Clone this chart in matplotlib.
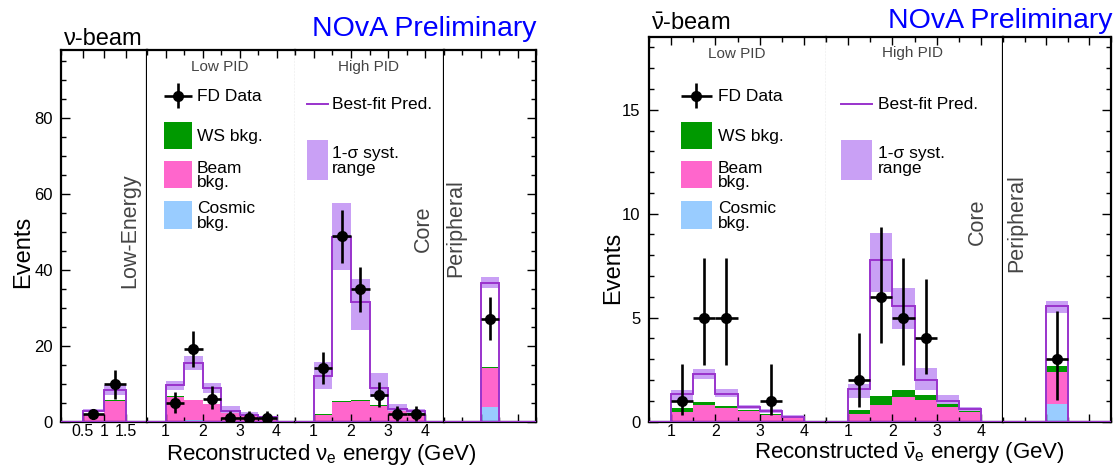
import numpy as np
import matplotlib
matplotlib.use('Agg')
import matplotlib.pyplot as plt
from matplotlib.patches import Rectangle
from matplotlib.ticker import FixedLocator, MultipleLocator, NullFormatter

plt.rcParams['font.family'] = ['Liberation Sans', 'DejaVu Sans']
plt.rcParams['mathtext.fontset'] = 'custom'
plt.rcParams['mathtext.rm'] = 'Liberation Sans'
plt.rcParams['mathtext.it'] = 'Liberation Sans'
plt.rcParams['mathtext.bf'] = 'Liberation Sans:bold'

# ---------------- data: neutrino beam (left) ----------------
nu_le_edges = [0.5, 1.0, 1.5]
nu_le_data = [2, 10]
nu_le_elo = [1.4, 4.0]
nu_le_ehi = [1.4, 3.7]
nu_le_pred = [2.9, 8.4]
nu_le_blo = [2.5, 6.9]
nu_le_bhi = [3.3, 9.5]
nu_le_cosmic = [0.1, 0.1]
nu_le_beam = [1.9, 5.3]
nu_le_ws = [0.05, 0.2]

nu_lp_edges = [1.0, 1.5, 2.0, 2.5, 3.0, 3.5, 4.0]
nu_lp_data = [5, 19, 6, 1, 1, 1]
nu_lp_elo = [2.8, 4.5, 2.7, 0.8, 0.8, 0.8]
nu_lp_ehi = [2.7, 4.8, 3.3, 1.8, 1.8, 1.8]
nu_lp_pred = [9.5, 15.4, 8.8, 2.9, 1.8, 1.2]
nu_lp_blo = [8.2, 13.6, 7.6, 2.2, 1.4, 0.8]
nu_lp_bhi = [10.6, 17.2, 10.2, 4.0, 2.4, 1.5]
nu_lp_cosmic = [0.1, 0.4, 0.1, 0.05, 0.05, 0.0]
nu_lp_beam = [6.4, 5.2, 4.5, 2.1, 1.3, 0.85]
nu_lp_ws = [0.2, 0.2, 0.1, 0.1, 0.05, 0.05]

nu_hp_edges = [1.0, 1.5, 2.0, 2.5, 3.0, 3.5, 4.0]
nu_hp_data = [14, 49, 35, 7, 2, 2]
nu_hp_elo = [4.1, 7.2, 6.2, 3.2, 1.8, 1.8]
nu_hp_ehi = [4.3, 6.9, 5.7, 3.4, 2.2, 2.2]
nu_hp_pred = [12.0, 48.8, 31.5, 8.9, 3.3, 2.7]
nu_hp_blo = [8.6, 40.0, 24.2, 6.4, 2.7, 2.3]
nu_hp_bhi = [15.8, 57.7, 37.6, 12.8, 4.7, 3.2]
nu_hp_cosmic = [0.05, 0.1, 0.1, 0.05, 0.05, 0.05]
nu_hp_beam = [1.6, 5.0, 5.2, 4.0, 2.7, 2.0]
nu_hp_ws = [0.3, 0.3, 0.3, 0.2, 0.2, 0.15]

nu_pe_edges = [1.0, 1.5]
nu_pe_data = [27]
nu_pe_elo = [5.6]
nu_pe_ehi = [5.8]
nu_pe_pred = [36.5]
nu_pe_blo = [35.3]
nu_pe_bhi = [38.1]
nu_pe_cosmic = [3.8]
nu_pe_beam = [10.2]
nu_pe_ws = [0.3]

# ---------------- data: antineutrino beam (right) ----------------
an_lp_edges = [1.0, 1.5, 2.0, 2.5, 3.0, 3.5, 4.0]
an_lp_data = [1, 5, 5, 0, 1, 0]
an_lp_elo = [0.71, 2.3, 2.3, 0.0, 0.71, 0.0]
an_lp_ehi = [1.79, 2.86, 2.86, 0.0, 1.79, 0.0]
an_lp_pred = [1.30, 2.30, 1.30, 0.69, 0.50, 0.24]
an_lp_blo = [0.93, 2.06, 1.17, 0.58, 0.40, 0.18]
an_lp_bhi = [1.50, 2.55, 1.58, 0.80, 0.61, 0.31]
an_lp_cosmic = [0.03, 0.02, 0.01, 0.01, 0.0, 0.0]
an_lp_beam = [0.45, 0.78, 0.65, 0.49, 0.31, 0.20]
an_lp_ws = [0.16, 0.13, 0.08, 0.06, 0.06, 0.02]

an_hp_edges = [1.0, 1.5, 2.0, 2.5, 3.0, 3.5, 4.0]
an_hp_data = [2, 6, 5, 4, 0, 0]
an_hp_elo = [1.31, 2.22, 2.3, 1.7, 0.0, 0.0]
an_hp_ehi = [2.28, 3.34, 2.86, 2.84, 0.0, 0.0]
an_hp_pred = [1.55, 7.78, 5.57, 2.01, 0.98, 0.61]
an_hp_blo = [1.14, 6.22, 4.46, 1.50, 0.85, 0.50]
an_hp_bhi = [1.82, 9.07, 6.41, 2.58, 1.26, 0.69]
an_hp_cosmic = [0.02, 0.02, 0.02, 0.01, 0.01, 0.0]
an_hp_beam = [0.32, 0.78, 1.15, 1.04, 0.68, 0.47]
an_hp_ws = [0.19, 0.41, 0.33, 0.21, 0.13, 0.06]

an_pe_edges = [1.0, 1.5]
an_pe_data = [3]
an_pe_elo = [1.95]
an_pe_ehi = [2.33]
an_pe_pred = [5.56]
an_pe_blo = [5.2]
an_pe_bhi = [5.81]
an_pe_cosmic = [0.85]
an_pe_beam = [1.53]
an_pe_ws = [0.29]

le_ticks = [0.5, 1.0, 1.5]
le_ticklabels = ['0.5', '1', '1.5']
pid_ticks = [1, 2, 3, 4]
pid_ticklabels = ['1', '2', '3', '4']

# ---------------- style ----------------
COL_COSMIC = '#99ccff'
COL_BEAM = '#ff66cc'
COL_WS = '#009900'
COL_BAND = '#c9a0f5'
COL_PRED = '#9933cc'
TXT_GRAY = '#444444'

W, H = 1115, 465
fig = plt.figure(figsize=(W / 100, H / 100), dpi=100)
fig.patch.set_facecolor('white')


def rect(x0, x1, ytop, ybot):
    return [x0 / W, 1 - ybot / H, (x1 - x0) / W, (ybot - ytop) / H]


def draw_segment(ax, edges, data, elo, ehi, pred, blo, bhi, cosmic, beam, ws):
    edges = np.asarray(edges, float)
    c = np.asarray(cosmic, float)
    b = c + np.asarray(beam, float)
    w = b + np.asarray(ws, float)
    ax.stairs(c, edges, baseline=0, fill=True, color=COL_COSMIC, lw=0, zorder=1)
    ax.stairs(b, edges, baseline=c, fill=True, color=COL_BEAM, lw=0, zorder=1)
    ax.stairs(w, edges, baseline=b, fill=True, color=COL_WS, lw=0, zorder=1)
    ax.stairs(np.asarray(bhi, float), edges, baseline=np.asarray(blo, float),
              fill=True, color=COL_BAND, lw=0, zorder=2)
    ax.stairs(np.asarray(pred, float), edges, baseline=0, color=COL_PRED, lw=1.4, zorder=3)
    centers = 0.5 * (edges[:-1] + edges[1:])
    d = np.asarray(data, float)
    m = d > 0
    ax.errorbar(centers[m], d[m],
                yerr=[np.asarray(elo, float)[m], np.asarray(ehi, float)[m]],
                xerr=0.25, fmt='o', color='k', ms=7, elinewidth=1.9,
                capsize=0, zorder=5, clip_on=True)


def make_panel(x_bounds, ytop, ybot, xlims, ylim, seg_data, seg_ticks, right_styles,
               ymajor, yminor):
    axes = []
    n = len(seg_data)
    for i in range(n):
        ax = fig.add_axes(rect(x_bounds[i], x_bounds[i + 1], ytop, ybot))
        ax.set_xlim(*xlims[i])
        ax.set_ylim(0, ylim)
        ax.axhline(0, color=COL_PRED, lw=1.6, zorder=3)
        draw_segment(ax, *seg_data[i])
        for s in ['top', 'bottom']:
            ax.spines[s].set_linewidth(1.6)
        ax.spines['left'].set_visible(i == 0)
        ax.spines['left'].set_linewidth(1.6)
        st = right_styles[i]
        if st == 'dotted':
            ax.spines['right'].set_linestyle((0, (1, 2)))
            ax.spines['right'].set_linewidth(0.8)
            ax.spines['right'].set_color('#333333')
        else:
            ax.spines['right'].set_linewidth(1.6)
        ticks, labels = seg_ticks[i]
        ax.xaxis.set_major_locator(FixedLocator(ticks if ticks else [1, 2]))
        ax.xaxis.set_minor_locator(MultipleLocator(0.5))
        if ticks:
            ax.set_xticklabels(labels)
        else:
            ax.xaxis.set_major_formatter(NullFormatter())
        ax.tick_params(axis='x', which='both', direction='in', top=True, bottom=True,
                       labelsize=11.5, pad=2)
        ax.tick_params(axis='x', which='major', length=6, width=1)
        ax.tick_params(axis='x', which='minor', length=3.5, width=1)
        ax.yaxis.set_major_locator(MultipleLocator(ymajor))
        ax.yaxis.set_minor_locator(MultipleLocator(yminor))
        if i == 0:
            ax.tick_params(axis='y', which='both', direction='in', left=True, right=False,
                           labelleft=True, labelsize=12, pad=6)
        elif i == n - 1:
            ax.tick_params(axis='y', which='both', direction='in', left=False, right=True,
                           labelleft=False, labelright=False)
        else:
            ax.tick_params(axis='y', which='both', left=False, right=False,
                           labelleft=False, labelright=False)
        ax.tick_params(axis='y', which='major', length=6.5, width=1)
        ax.tick_params(axis='y', which='minor', length=3.5, width=1)
        axes.append(ax)
    return axes


nu_segs = [
    (nu_le_edges, nu_le_data, nu_le_elo, nu_le_ehi, nu_le_pred, nu_le_blo, nu_le_bhi,
     nu_le_cosmic, nu_le_beam, nu_le_ws),
    (nu_lp_edges, nu_lp_data, nu_lp_elo, nu_lp_ehi, nu_lp_pred, nu_lp_blo, nu_lp_bhi,
     nu_lp_cosmic, nu_lp_beam, nu_lp_ws),
    (nu_hp_edges, nu_hp_data, nu_hp_elo, nu_hp_ehi, nu_hp_pred, nu_hp_blo, nu_hp_bhi,
     nu_hp_cosmic, nu_hp_beam, nu_hp_ws),
    (nu_pe_edges, nu_pe_data, nu_pe_elo, nu_pe_ehi, nu_pe_pred, nu_pe_blo, nu_pe_bhi,
     nu_pe_cosmic, nu_pe_beam, nu_pe_ws),
]
an_segs = [
    (an_lp_edges, an_lp_data, an_lp_elo, an_lp_ehi, an_lp_pred, an_lp_blo, an_lp_bhi,
     an_lp_cosmic, an_lp_beam, an_lp_ws),
    (an_hp_edges, an_hp_data, an_hp_elo, an_hp_ehi, an_hp_pred, an_hp_blo, an_hp_bhi,
     an_hp_cosmic, an_hp_beam, an_hp_ws),
    (an_pe_edges, an_pe_data, an_pe_elo, an_pe_ehi, an_pe_pred, an_pe_blo, an_pe_bhi,
     an_pe_cosmic, an_pe_beam, an_pe_ws),
]

make_panel([61, 147, 295, 444, 536], 50, 421.5,
           [(0, 2), (0.5, 4.5), (0.5, 4.5), (0, 2.5)], 98, nu_segs,
           [(le_ticks, le_ticklabels), (pid_ticks, pid_ticklabels),
            (pid_ticks, pid_ticklabels), ([], [])],
           ['solid', 'dotted', 'solid', 'solid'], 20, 5)

make_panel([649, 826, 1003, 1111], 37, 421.5,
           [(0.5, 4.5), (0.5, 4.5), (0, 2.5)], 18.5, an_segs,
           [(pid_ticks, pid_ticklabels), (pid_ticks, pid_ticklabels), ([], [])],
           ['dotted', 'solid', 'solid'], 5, 1)

# ---------------- overlay for texts and legends (pixel coordinates) ----------------
ov = fig.add_axes([0, 0, 1, 1])
ov.set_xlim(0, W)
ov.set_ylim(H, 0)
ov.axis('off')
ov.patch.set_alpha(0)

# titles
ov.text(64, 45, 'ν-beam', fontsize=17, ha='left', va='baseline')
ov.text(536, 36, 'NOvA Preliminary', fontsize=20.5, color='#0000ff', ha='right', va='baseline')
ov.text(651, 30, r'$\bar{\nu}$-beam', fontsize=17, ha='left', va='baseline')
ov.text(1113, 28, 'NOvA Preliminary', fontsize=20.5, color='#0000ff', ha='right', va='baseline')

# axis titles
ov.text(321, 459.5, r'Reconstructed $\nu_{e}$ energy (GeV)', fontsize=16, ha='center', va='baseline')
ov.text(909, 459.3, r'Reconstructed $\bar{\nu}_{e}$ energy (GeV)', fontsize=16, ha='center', va='baseline')
ov.text(23, 252, 'Events', fontsize=17, rotation=90, ha='center', va='center')
ov.text(613, 268, 'Events', fontsize=17, rotation=90, ha='center', va='center')

# segment labels
for x, y, s in [(220, 67, 'Low PID'), (368, 67, 'High PID'),
                (737, 54, 'Low PID'), (913, 53, 'High PID')]:
    ov.text(x, y, s, fontsize=11, color=TXT_GRAY, ha='center', va='center')
for x, y, s in [(130, 231, 'Low-Energy'), (423, 229, 'Core'), (456, 228, 'Peripheral'),
                (977, 222, 'Core'), (1017, 223, 'Peripheral')]:
    ov.text(x, y, s, fontsize=15.5, color=TXT_GRAY, rotation=90, ha='center', va='center')


def legend(x0, x1, xt, lx0, lx1, lxt):
    xc = 0.5 * (x0 + x1)
    ov.errorbar([xc], [96], xerr=[[xc - x0], [x1 - xc]], yerr=12.5, fmt='o', color='k',
                ms=7, elinewidth=1.9, capsize=0)
    ov.text(xt, 96, 'FD Data', fontsize=12.5, ha='left', va='center')
    for (yt, yb, col, lab) in [(122.3, 149.3, COL_WS, 'WS bkg.'),
                               (161, 188.3, COL_BEAM, 'Beam\nbkg.'),
                               (201, 229, COL_COSMIC, 'Cosmic\nbkg.')]:
        ov.add_patch(Rectangle((x0, yt), x1 - x0, yb - yt, color=col, lw=0))
        ov.text(xt, 0.5 * (yt + yb) + 1, lab, fontsize=12.5, ha='left', va='center',
                linespacing=0.92)
    ov.plot([lx0, lx1], [104, 104], color=COL_PRED, lw=1.4)
    ov.text(lxt, 104, 'Best-fit Pred.', fontsize=12.5, ha='left', va='center')
    ov.add_patch(Rectangle((lx0, 140), lx1 - lx0, 40, color=COL_BAND, lw=0))
    ov.text(lxt, 161, '1-σ syst.\nrange', fontsize=12.5, ha='left', va='center',
            linespacing=0.92)


legend(164.3, 191.7, 197, 307, 327.5, 332)
legend(681, 711.7, 718, 840.7, 871.5, 877.7)

fig.savefig('out.png', dpi=100, facecolor='white')
